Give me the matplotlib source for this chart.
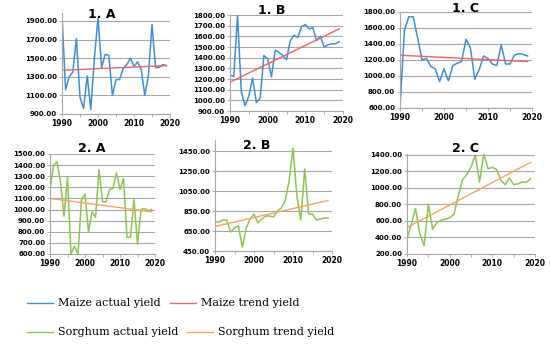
from matplotlib import pyplot as plt
from matplotlib.lines import Line2D
import numpy as np

W, H = 550, 344

years = list(range(1990, 2020))
trend_years = [1990, 2019]

maize_a = [1960, 1160, 1300, 1350, 1710, 1080, 960, 1310, 950, 1500,
           1930, 1400, 1540, 1530, 1100, 1270, 1270, 1390, 1430, 1500,
           1410, 1460, 1380, 1100, 1310, 1860, 1400, 1400, 1430, 1420]
maize_a_trend = [1370, 1420]

maize_b = [1240, 1220, 1800, 1080, 950, 1040, 1210, 980, 1020, 1420,
           1390, 1220, 1470, 1450, 1420, 1380, 1560, 1610, 1590, 1690,
           1710, 1670, 1680, 1560, 1600, 1500, 1520, 1530, 1530, 1550]
maize_b_trend = [1170, 1670]

maize_c = [600, 1570, 1740, 1740, 1480, 1200, 1220, 1120, 1090, 930,
           1090, 940, 1130, 1160, 1180, 1460, 1350, 960, 1080, 1250,
           1220, 1150, 1130, 1390, 1150, 1150, 1260, 1280, 1270, 1250]
maize_c_trend = [1260, 1180]

sorg_a = [1170, 1400, 1430, 1250, 940, 1290, 600, 670, 600, 1090,
          1140, 800, 980, 930, 1360, 1070, 1070, 1180, 1190, 1330,
          1180, 1280, 750, 750, 1090, 690, 1000, 1010, 990, 1000]
sorg_a_trend = [1100, 980]

sorg_b = [740, 740, 760, 760, 640, 680, 700, 490, 680, 770,
          820, 730, 770, 800, 800, 790, 850, 880, 950, 1150,
          1480, 1000, 760, 1270, 820, 820, 760, 770, 780, 780]
sorg_b_trend = [695, 955]

sorg_c = [380, 560, 750, 450, 300, 800, 500, 580, 610, 620,
          640, 680, 900, 1100, 1160, 1250, 1400, 1070, 1410, 1230,
          1250, 1220, 1090, 1040, 1120, 1040, 1050, 1070, 1070, 1110]
sorg_c_trend = [520, 1310]

BLUE = '#3d8fd6'
RED = '#f0625f'
GREEN = '#8dc450'
ORANGE = '#f7a35c'

panels = [
    # title, actual, trend, colors, box(px: left, top, right, bottom), ylim, yticks, title pos
    ('1. A', maize_a, maize_a_trend, BLUE, RED, (62, 13, 170, 114), (900, 1985), np.arange(900, 2000, 200), (102, 14)),
    ('1. B', maize_b, maize_b_trend, BLUE, RED, (230, 15, 343, 111), (900, 1800), np.arange(900, 1801, 100), (272, 10)),
    ('1. C', maize_c, maize_c_trend, BLUE, RED, (400, 12, 532, 108), (600, 1800), np.arange(600, 1801, 200), (465, 8)),
    ('2. A', sorg_a, sorg_a_trend, GREEN, ORANGE, (50, 154, 155, 254), (600, 1500), np.arange(600, 1501, 100), (92, 148)),
    ('2. B', sorg_b, sorg_b_trend, GREEN, ORANGE, (215, 140, 332, 251), (450, 1560), np.arange(450, 1451, 200), (257, 145)),
    ('2. C', sorg_c, sorg_c_trend, GREEN, ORANGE, (407, 154, 535, 254), (200, 1410), np.arange(200, 1401, 200), (465, 148)),
]

fig = plt.figure(figsize=(W / 100, H / 100), dpi=100)

for title, act, trend, c1, c2, box, ylim, yt, tpos in panels:
    l, t, r, b = box
    ax = fig.add_axes([l / W, (H - b) / H, (r - l) / W, (b - t) / H])
    ax.plot(years, act, color=c1, lw=1.1)
    ax.plot(trend_years, trend, color=c2, lw=1.0)
    ax.set_xlim(1990, 2020)
    ax.set_ylim(*ylim)
    ax.set_xticks([1990, 2000, 2010, 2020])
    ax.set_xticks(range(1990, 2021, 5), minor=True)
    ax.set_yticks(yt)
    ax.set_yticklabels(['%.2f' % v for v in yt])
    ax.grid(axis='y', color='#a6a6a6', lw=0.8)
    ax.set_axisbelow(True)
    for s in ['top', 'right']:
        ax.spines[s].set_visible(False)
    for s in ['left', 'bottom']:
        ax.spines[s].set_color('#a6a6a6')
        ax.spines[s].set_linewidth(0.8)
    ax.tick_params(labelsize=5, length=2, width=0.6, color='#a6a6a6', pad=1.5)
    ax.tick_params(axis='x', labelsize=5.5)
    ax.tick_params(which='minor', length=2, width=0.6, color='#a6a6a6')
    for lab in ax.get_xticklabels() + ax.get_yticklabels():
        lab.set_fontweight('bold')
    fig.text(tpos[0] / W, 1 - tpos[1] / H, title, ha='center', va='center',
             fontsize=9, fontweight='heavy')

legend_items = [
    ('Maize actual yield', BLUE, 27, 303),
    ('Maize trend yield', RED, 170, 303),
    ('Sorghum actual yield', GREEN, 27, 332),
    ('Sorghum trend yield', ORANGE, 187, 332),
]
for name, col, x, y in legend_items:
    fig.add_artist(Line2D([x / W, (x + 26) / W], [1 - y / H, 1 - y / H], color=col, lw=1.0))
    fig.text((x + 31) / W, 1 - y / H, name, ha='left', va='center',
             fontsize=8, family='DejaVu Serif')

fig.savefig('out.png', dpi=100)
